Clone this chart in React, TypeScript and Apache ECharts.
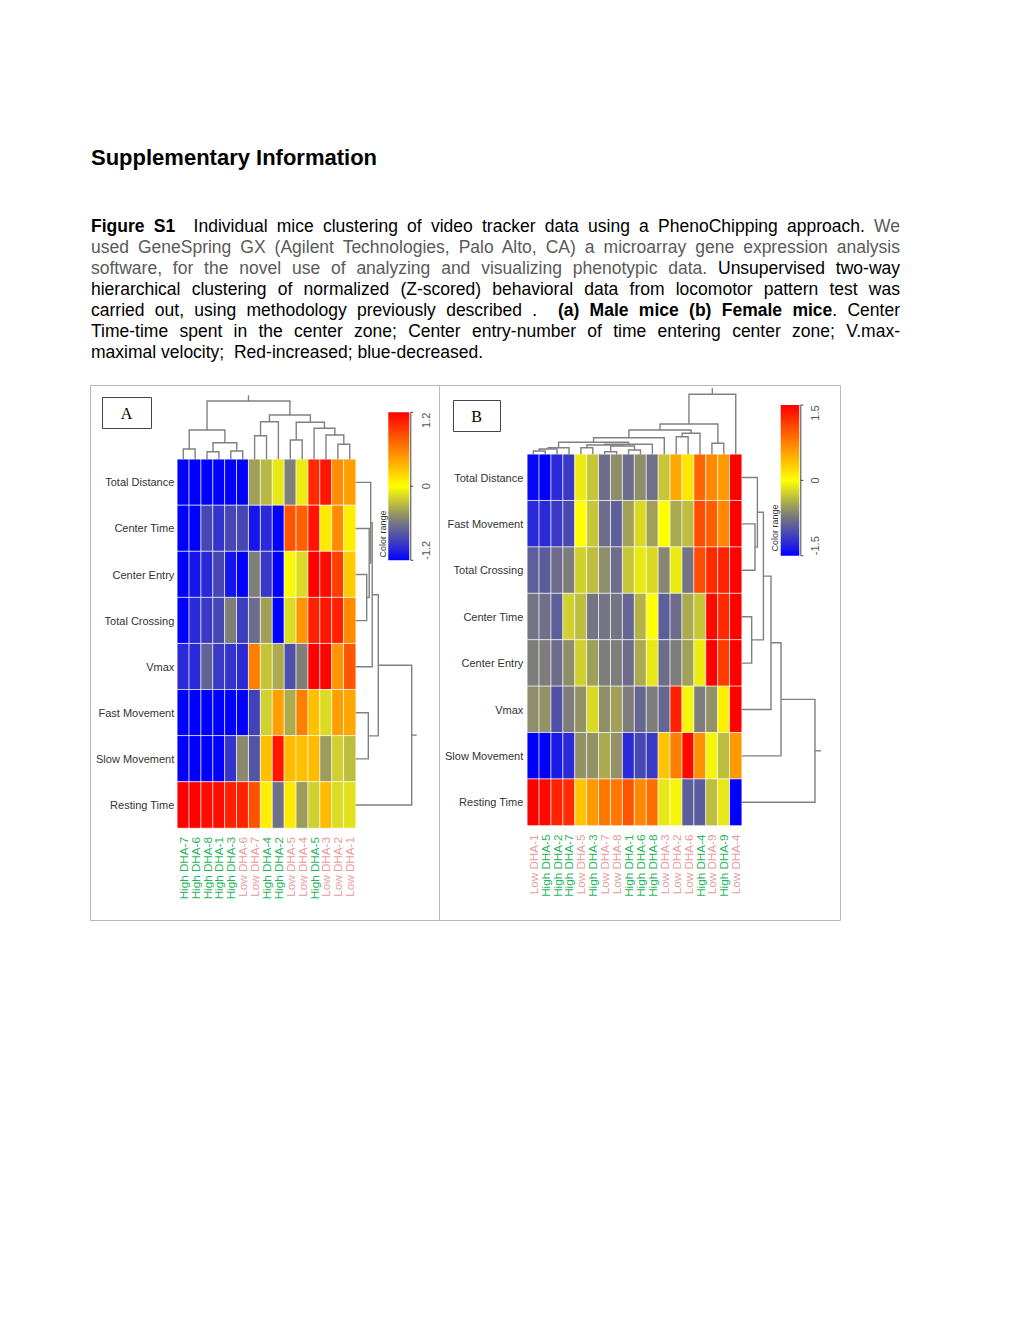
import React, { useEffect, useRef } from "react";
import * as echarts from "echarts";

// ---------------- DATA ----------------
const ROWS_A = ["Total Distance", "Center Time", "Center Entry", "Total Crossing", "Vmax", "Fast Movement", "Slow Movement", "Resting Time"];
const COLS_A = ["High DHA-7", "High DHA-6", "High DHA-8", "High DHA-1", "High DHA-3", "Low DHA-6", "Low DHA-7", "High DHA-4", "High DHA-2", "Low DHA-5", "Low DHA-4", "High DHA-5", "Low DHA-3", "Low DHA-2", "Low DHA-1"];
const VALUES_A = [
  [-1.2, -1.2, -1.2, -1.2, -1.2, -1.2, -0.4, -0.3, -0.1, -0.55, -0.08, 1.0, 1.1, 0.55, 0.45],
  [-1.2, -1.2, -0.85, -0.95, -0.85, -0.85, -1.1, -1.0, -1.2, 0.8, 0.75, 1.1, 0.1, 0.55, 0.08],
  [-1.2, -1.1, -1.0, -0.85, -1.1, -1.2, -0.55, -0.92, -1.2, -0.03, -0.15, 1.2, 1.15, 0.9, 0.25],
  [-1.2, -1.0, -0.92, -0.85, -0.55, -0.9, -0.65, -0.4, -1.2, -0.15, 0.5, 1.05, 1.1, 1.05, 0.55],
  [-1.0, -1.0, -0.7, -0.92, -0.95, -1.0, 0.6, -0.25, -0.35, -0.8, -0.55, 1.2, 1.18, 0.5, 0.8],
  [-1.2, -1.2, -1.2, -1.2, -1.2, -1.2, -0.88, -0.2, 0.45, -0.35, 0.6, 0.3, -0.15, 0.45, 0.42],
  [-1.2, -1.2, -1.2, -1.2, -0.95, -0.5, -0.78, 0.3, 1.1, 0.32, 0.3, 0.32, -0.42, -0.2, -0.28],
  [1.2, 1.2, 1.15, 1.15, 1.05, 1.05, 0.82, 0.08, -0.62, 0.1, -0.42, -0.2, 0.32, -0.15, -0.12],
];
// hclust-style merges: negative = leaf (1-based), positive = earlier merge (1-based); [a, b, height]
const COL_MERGES_A = [
  [-1, -2, 10.3], [-3, -4, 7.6], [-5, -6, 8.3], [2, 3, 16.6], [1, 4, 29.3],
  [-7, -8, 23.6], [6, -9, 37.6], [-10, -11, 19.3], [-14, -15, 15], [-13, 9, 24.3],
  [-12, 10, 31], [8, 11, 37], [7, 12, 44.3], [5, 13, 58.3],
];
const COL_STEM_A = 64;
const ROW_MERGES_A = [
  [-3, -4, 11], [-2, 1, 13.5], [-1, 2, 15], [3, -5, 16.5], [-6, -7, 12.6], [4, 5, 22.6], [6, -8, 56],
];
const ROW_STEM_A = 61;
const RANGE_A = [-1.2, 1.2];
const TICKS_A = ["1.2", "0", "-1.2"];

const ROWS_B = ["Total Distance", "Fast Movement", "Total Crossing", "Center Time", "Center Entry", "Vmax", "Slow Movement", "Resting Time"];
const COLS_B = ["Low DHA-1", "High DHA-5", "High DHA-2", "High DHA-7", "Low DHA-5", "High DHA-3", "Low DHA-7", "Low DHA-8", "High DHA-1", "High DHA-6", "High DHA-8", "Low DHA-3", "Low DHA-2", "Low DHA-6", "High DHA-4", "Low DHA-9", "High DHA-9", "Low DHA-4"];
const VALUES_B = [
  [-1.45, -1.5, -1.25, -1.15, -0.1, -0.3, -0.8, -0.6, -0.8, -0.6, -0.78, -0.3, 0.5, 0.15, 0.9, 0.7, 0.6, 1.5],
  [-1.25, -1.25, -1.15, -1.05, 0.0, -0.3, -0.8, -0.9, -0.5, -0.2, -0.5, 0.0, -0.45, -0.35, 1.05, 0.95, 0.7, 1.5],
  [-0.9, -0.92, -0.8, -0.7, -0.25, -0.35, -0.6, -0.8, -0.3, -0.12, -0.2, -0.65, -0.1, -0.75, 1.05, 1.25, 1.3, 1.5],
  [-0.75, -0.78, -0.9, -0.25, -0.35, -0.75, -0.75, -0.75, -0.85, -0.4, 0.0, -0.9, -0.8, -0.45, -0.3, 1.45, 1.25, 1.5],
  [-0.7, -0.7, -0.8, -0.6, -0.25, -0.5, -0.7, -0.7, -0.8, -0.45, -0.12, -0.8, -0.7, -0.5, -0.1, 1.5, 1.15, 1.5],
  [-0.6, -0.58, -1.0, -0.7, -0.58, -0.2, -0.6, -0.5, -0.7, -0.85, -0.7, -0.85, 1.3, -0.05, -0.7, -0.58, 0.1, 1.5],
  [-1.5, -1.5, -1.35, -1.25, -0.58, -0.58, -0.45, -0.58, -1.25, -1.05, -1.15, 0.35, 0.75, 1.45, 0.65, -0.05, -0.35, 0.6],
  [1.5, 1.45, 1.3, 1.25, 0.35, 0.6, 0.8, 0.8, 1.0, 0.7, 0.85, -0.12, -0.05, -0.9, -0.92, -0.35, -0.12, -1.5],
];
const COL_MERGES_B = [
  [-1, -2, 3.3], [1, -3, 5.3], [2, -4, 6.6], [-5, -6, 6.6], [-7, -8, 2.6], [-9, -10, 4.3],
  [5, 6, 8.3], [4, 7, 9.3], [8, -11, 10], [3, 9, 12], [10, -12, 16.6], [-13, -14, 17.6],
  [12, -15, 21], [11, 13, 24.3], [-16, -17, 11], [14, 15, 30.3], [16, -18, 60],
];
const COL_STEM_B = 66;
const ROW_MERGES_B = [
  [-2, -3, 13.3], [-1, 1, 15.7], [-4, -5, 10], [2, 3, 21.7], [4, -6, 29.3], [5, -7, 39.3], [6, -8, 73.3],
];
const ROW_STEM_B = 79.3;
const RANGE_B = [-1.5, 1.5];
const TICKS_B = ["1.5", "0", "-1.5"];

const COLORS = ["#0000ff", "#2a2ad8", "#5050a8", "#747484", "#a0a058", "#d0d030", "#ffff00", "#ffd500", "#ffaa00", "#ff8000", "#ff5500", "#ff2a00", "#ff0000"];

// ---------------- HELPERS ----------------
function buildDendro(merges: number[][], stem: number): number[][][] {
  const pos: number[] = [];
  const hgt: number[] = [];
  const out: number[][][] = [];
  const get = (id: number) => (id < 0 ? [-id - 1 + 0.5, 0] : [pos[id - 1], hgt[id - 1]]);
  merges.forEach(([a, b, h], k) => {
    const [pa, ha] = get(a);
    const [pb, hb] = get(b);
    out.push([[pa, ha], [pa, h], [pb, h], [pb, hb]]);
    pos[k] = (pa + pb) / 2;
    hgt[k] = h;
  });
  const last = merges.length - 1;
  out.push([[pos[last], hgt[last]], [pos[last], stem]]);
  return out;
}

function heatData(values: number[][]) {
  const d: number[][] = [];
  values.forEach((row, r) => row.forEach((v, c) => d.push([c, r, v])));
  return d;
}

const GREEN = "#1fb459";
const PINK = "#e99a9a";
const LINE = "#808080";
const LABEL_FONT = "'Liberation Sans', Arial, sans-serif";

function colorStops() {
  // top of the bar (offset 0) is the highest value
  const n = COLORS.length;
  return COLORS.map((_, i) => ({ offset: i / (n - 1), color: COLORS[n - 1 - i] }));
}

function colorBar(x: number, y: number, w: number, h: number, ticks: string[], labelX: number, crX: number, crY: number) {
  const lx = x + w + 1.5;
  const els: any[] = [
    { type: "rect", shape: { x, y, width: w, height: h }, style: { fill: new echarts.graphic.LinearGradient(0, 0, 0, 1, colorStops()) }, silent: true },
    { type: "polyline", shape: { points: [[lx + 2.5, y], [lx, y], [lx, y + h], [lx + 2.5, y + h]] }, style: { stroke: "#444", lineWidth: 1, fill: "none" }, silent: true },
    { type: "line", shape: { x1: lx, y1: y + h / 2, x2: lx + 2.5, y2: y + h / 2 }, style: { stroke: "#444", lineWidth: 1 }, silent: true },
  ];
  const ys = [y + 8, y + h / 2, y + h - 10];
  ticks.forEach((t, i) => {
    els.push({
      type: "text", x: labelX, y: ys[i], rotation: Math.PI / 2, silent: true,
      style: { text: t, fill: "#555", font: "11px 'Liberation Sans', Arial", align: "center", verticalAlign: "middle", textAlign: "center", textVerticalAlign: "middle" },
    });
  });
  els.push({
    type: "text", x: crX, y: crY, rotation: Math.PI / 2, silent: true,
    style: { text: "Color range", fill: "#333", font: "9px 'Liberation Sans', Arial", align: "center", verticalAlign: "middle", textAlign: "center", textVerticalAlign: "middle" },
  });
  return els;
}

function labelBox(x: number, y: number, w: number, h: number, t: string) {
  return [
    { type: "rect", shape: { x: x + 0.5, y: y + 0.5, width: w, height: h }, style: { fill: "#fff", stroke: "#444", lineWidth: 1 }, silent: true },
    { type: "text", x: x + w / 2, y: y + h / 2 + 1, silent: true, style: { text: t, fill: "#000", font: "16px 'Liberation Serif', 'DejaVu Serif', serif", align: "center", verticalAlign: "middle", textAlign: "center", textVerticalAlign: "middle" } },
  ];
}

// ---------------- LAYOUT ----------------
const HA = { left: 177.3, top: 459.3, width: 178.4, height: 368.7 };
const HB = { left: 527.3, top: 454.3, width: 214.4, height: 371.2 };

export default function App() {
  const ref = useRef<HTMLDivElement>(null);

  useEffect(() => {
    if (!ref.current) return;
    const chart = echarts.init(ref.current, undefined, { renderer: "svg" });

    const colA = buildDendro(COL_MERGES_A, COL_STEM_A);
    const rowA = buildDendro(ROW_MERGES_A, ROW_STEM_A).map((l) => l.map(([p, h]) => [h, p]));
    const colB = buildDendro(COL_MERGES_B, COL_STEM_B);
    const rowB = buildDendro(ROW_MERGES_B, ROW_STEM_B).map((l) => l.map(([p, h]) => [h, p]));

    const catX = (data: string[]) => ({
      type: "category", data, axisLine: { show: false }, axisTick: { show: false }, splitLine: { show: false },
      axisLabel: {
        interval: 0, rotate: 90, margin: 9, fontSize: 11.7, fontFamily: "'Liberation Sans', Arial",
        color: (v: string) => (v.startsWith("High") ? GREEN : PINK),
      },
    });
    const catY = (data: string[], margin: number) => ({
      type: "category", data, inverse: true, axisLine: { show: false }, axisTick: { show: false }, splitLine: { show: false },
      axisLabel: { interval: 0, margin, fontSize: 11, fontFamily: LABEL_FONT, color: "#333" },
    });
    const hidden = (min: number, max: number, inverse = false) => ({ type: "value", min, max, inverse, show: false });

    const lineStyle = { color: LINE, width: 1.4, opacity: 1 };
    const linesSeries = (idx: number, data: number[][][]) => ({
      type: "lines", coordinateSystem: "cartesian2d", xAxisIndex: idx, yAxisIndex: idx, polyline: true, silent: true,
      lineStyle, data: data.map((c) => ({ coords: c })),
    });

    const option: any = {
      animation: false,
      backgroundColor: "#fff",
      grid: [
        { ...HA },
        { ...HB },
        { left: HA.left, top: HA.top - COL_STEM_A, width: HA.width, height: COL_STEM_A },
        { left: HA.left + HA.width, top: HA.top, width: ROW_STEM_A, height: HA.height },
        { left: HB.left, top: HB.top - COL_STEM_B, width: HB.width, height: COL_STEM_B },
        { left: HB.left + HB.width, top: HB.top, width: ROW_STEM_B, height: HB.height },
      ],
      xAxis: [
        { ...catX(COLS_A), gridIndex: 0 },
        { ...catX(COLS_B), gridIndex: 1 },
        { ...hidden(0, COLS_A.length), gridIndex: 2 },
        { ...hidden(0, ROW_STEM_A), gridIndex: 3 },
        { ...hidden(0, COLS_B.length), gridIndex: 4 },
        { ...hidden(0, ROW_STEM_B), gridIndex: 5 },
      ],
      yAxis: [
        { ...catY(ROWS_A, 3), gridIndex: 0 },
        { ...catY(ROWS_B, 4), gridIndex: 1 },
        { ...hidden(0, COL_STEM_A), gridIndex: 2 },
        { ...hidden(0, ROWS_A.length, true), gridIndex: 3 },
        { ...hidden(0, COL_STEM_B), gridIndex: 4 },
        { ...hidden(0, ROWS_B.length, true), gridIndex: 5 },
      ],
      visualMap: [
        { type: "continuous", show: false, seriesIndex: 0, min: RANGE_A[0], max: RANGE_A[1], inRange: { color: COLORS } },
        { type: "continuous", show: false, seriesIndex: 1, min: RANGE_B[0], max: RANGE_B[1], inRange: { color: COLORS } },
      ],
      series: [
        { type: "heatmap", xAxisIndex: 0, yAxisIndex: 0, data: heatData(VALUES_A), silent: true, itemStyle: { borderColor: "rgba(255,255,255,0.75)", borderWidth: 1 } },
        { type: "heatmap", xAxisIndex: 1, yAxisIndex: 1, data: heatData(VALUES_B), silent: true, itemStyle: { borderColor: "rgba(255,255,255,0.75)", borderWidth: 1 } },
        linesSeries(2, colA),
        linesSeries(3, rowA),
        linesSeries(4, colB),
        linesSeries(5, rowB),
      ],
      graphic: [
        { type: "rect", shape: { x: 90.5, y: 385.5, width: 750, height: 535 }, style: { fill: "none", stroke: "#b8b8b8", lineWidth: 1 }, silent: true, z: -1 },
        { type: "line", shape: { x1: 439.5, y1: 385.5, x2: 439.5, y2: 920.5 }, style: { stroke: "#b8b8b8", lineWidth: 1 }, silent: true },
        ...labelBox(102, 397, 49, 31, "A"),
        ...labelBox(453, 400, 47, 31, "B"),
        ...colorBar(388.3, 412.3, 21, 148, TICKS_A, 426, 383, 534),
        ...colorBar(780.7, 405, 18.6, 150.7, TICKS_B, 815, 775, 528),
      ],
    };
    chart.setOption(option);
    return () => chart.dispose();
  }, []);

  const gray = "#5a5a5a";
  const lineStyle: React.CSSProperties = {
    height: 21, lineHeight: "21px", textAlign: "justify", textAlignLast: "justify" as any, width: 809,
  };
  return (
    <div style={{ position: "absolute", left: 0, top: 0, width: 1020, height: 1320, background: "#fff", fontFamily: "'Liberation Sans', Arial, sans-serif" }}>
      <div ref={ref} style={{ position: "absolute", left: 0, top: 0, width: 1020, height: 1320 }} />
      <div style={{ position: "absolute", left: 91, top: 145, fontSize: 22, lineHeight: "26px", fontWeight: "bold", color: "#000" }}>
        Supplementary Information
      </div>
      <div style={{ position: "absolute", left: 91, top: 215.5, fontSize: 17.5, color: "#000" }}>
        <div style={lineStyle}><b>Figure S1</b>{"\u00a0 "}Individual mice clustering of video tracker data using a PhenoChipping approach. <span style={{ color: gray }}>We</span></div>
        <div style={{ ...lineStyle, color: gray }}>used GeneSpring GX (Agilent Technologies, Palo Alto, CA) a microarray gene expression analysis</div>
        <div style={lineStyle}><span style={{ color: gray }}>software, for the novel use of analyzing and visualizing phenotypic data.</span> Unsupervised two-way</div>
        <div style={lineStyle}>hierarchical clustering of normalized (Z-scored) behavioral data from locomotor pattern test was</div>
        <div style={lineStyle}>carried out, using methodology previously described .{"\u00a0 "}<b>(a) Male mice (b) Female mice</b>. Center</div>
        <div style={lineStyle}>Time-time spent in the center zone; Center entry-number of time entering center zone; V.max-</div>
        <div style={{ ...lineStyle, textAlign: "left", textAlignLast: "left" as any }}>maximal velocity;{"\u00a0 "}Red-increased; blue-decreased.</div>
      </div>
    </div>
  );
}
